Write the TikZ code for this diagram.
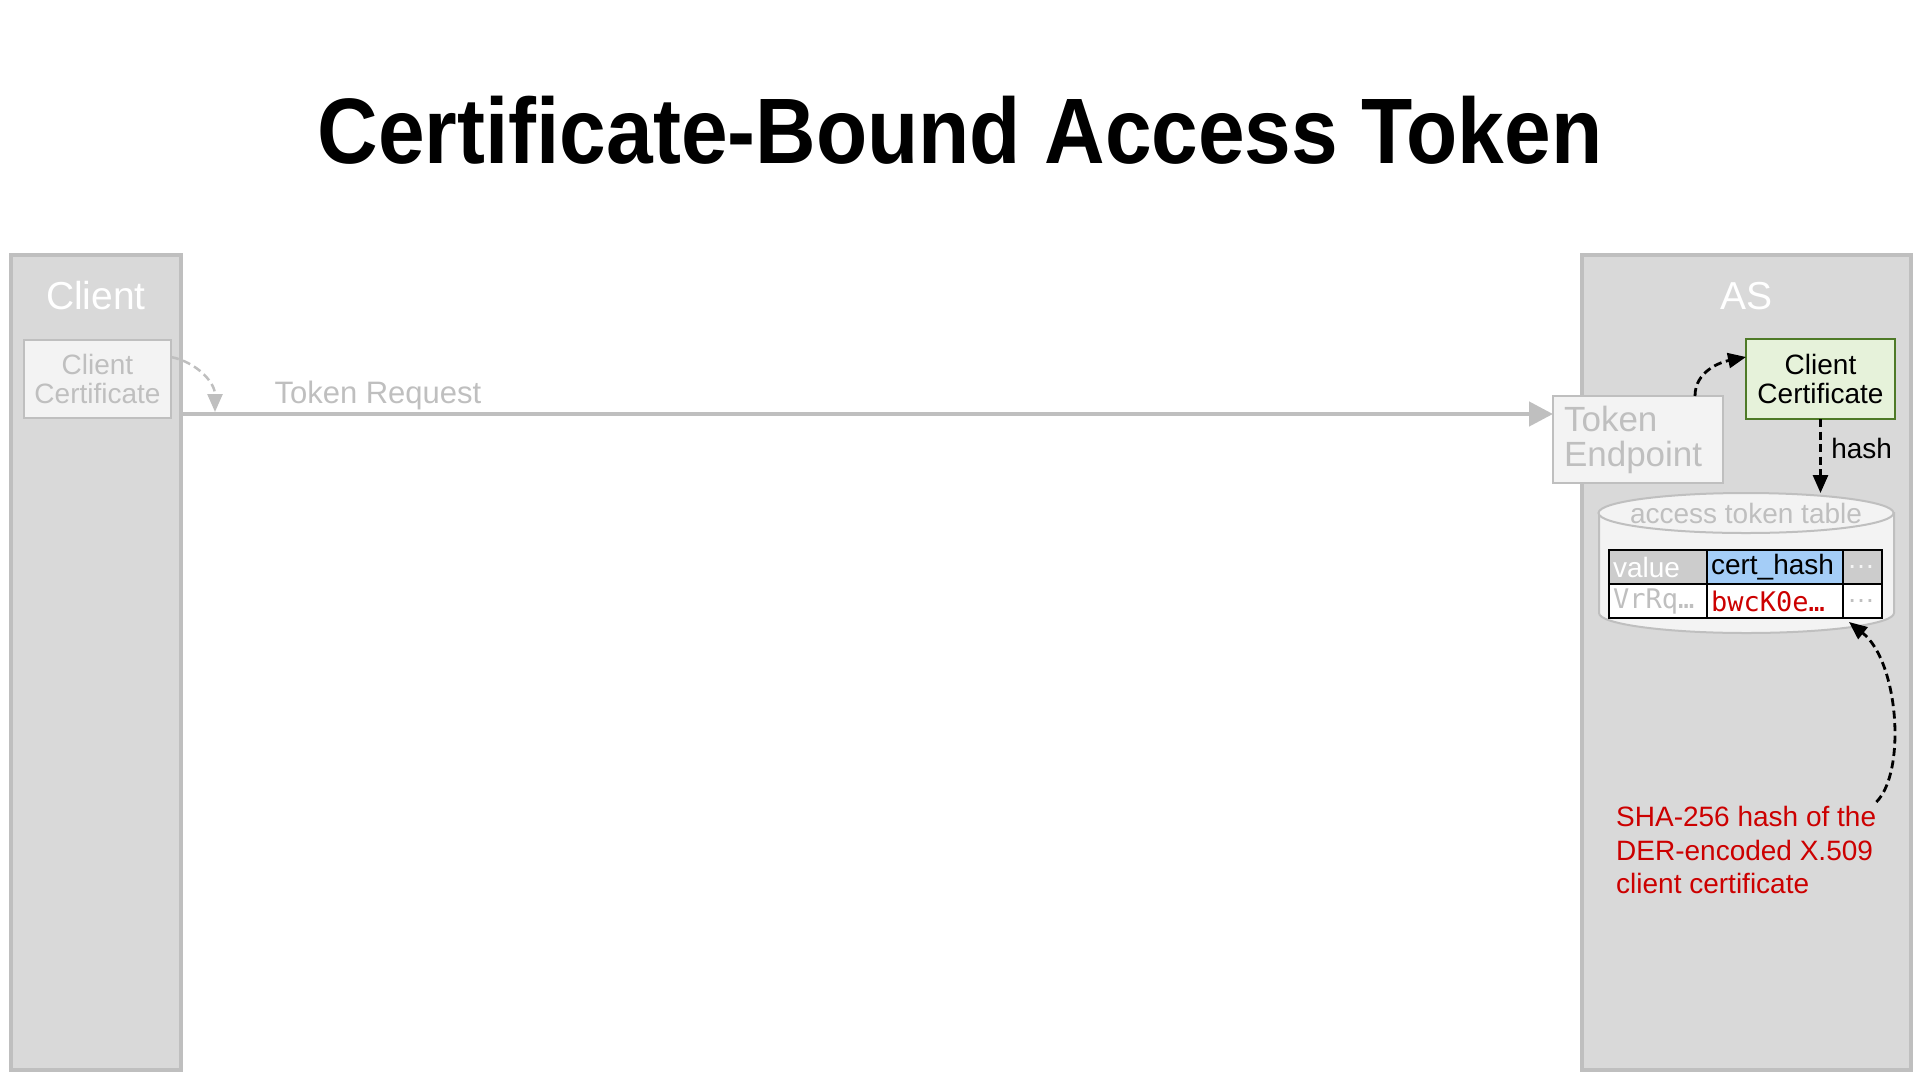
\documentclass[tikz,border=0pt]{standalone}
\usepackage{fontspec}
\setmainfont{Liberation Sans}
\setmonofont{DejaVu Sans Mono}
\usepackage{graphicx}
\usetikzlibrary{arrows.meta,positioning,calc}

\definecolor{lanefill}{HTML}{D9D9D9}
\definecolor{lanegray}{HTML}{BFBFBF}
\definecolor{boxfill}{HTML}{F3F3F3}
\definecolor{certgreen}{HTML}{E6F2DA}
\definecolor{certborder}{HTML}{4E7A27}
\definecolor{hdrblue}{HTML}{A4CDF7}
\definecolor{hdrgray}{HTML}{CCCCCC}
\definecolor{hashred}{HTML}{CC0000}

\begin{document}
\begin{tikzpicture}[x=1pt, y=-1pt,
lane/.style={draw=lanegray, fill=lanefill, line width=3.5pt, inner sep=0pt, outer sep=0pt, anchor=north west},
lanetitle/.style={text=white, font=\fontsize{39}{40}\selectfont},
certbox/.style={draw=lanegray, fill=boxfill, line width=2.5pt, align=center, inner sep=0pt, outer sep=0pt, text=lanegray, font=\fontsize{28}{29}\selectfont},
greenbox/.style={certbox, draw=certborder, fill=certgreen, text=black},
cell/.style={draw=black, line width=2pt, minimum height=34pt, inner xsep=4pt, inner ysep=0pt, outer sep=0pt, anchor=north west, align=left, font=\fontsize{28}{29}\selectfont},
monocell/.style={cell, font=\ttfamily\fontsize{27}{28}\selectfont},
dasharrow/.style={-{Triangle[length=18pt, width=15pt]}, line width=2.8pt, dash pattern=on 8pt off 4.5pt},
reqarrow/.style={-{Triangle[length=24pt, width=24pt]}, draw=lanegray, line width=4.5pt}
]
\useasboundingbox (0,0) rectangle (1920,1080);

% Title
\node[font=\fontsize{93}{100}\selectfont\bfseries, anchor=base] (title) at (960,163) {\scalebox{0.902}[1]{Certificate-Bound Access Token}};

% Lanes
\node[lane, minimum width=170pt, minimum height=815pt] (client) at (11,255) {};
\node[lane, minimum width=329pt, minimum height=815pt] (as) at (1582,255) {};
\node[lanetitle] (clienttitle) at (96,296) {Client};
\node[lanetitle] (astitle) at (1746,296) {AS};

% Client side
\node[certbox, minimum width=147pt, minimum height=78pt] (clientcert) at (97.5,379) {Client\\Certificate};

% AS side
\node[certbox, font=\fontsize{35}{35}\selectfont, align=left, text width=148pt, inner xsep=11pt, minimum height=87pt, anchor=north west] (endpoint) at (1553,396) {Token\\Endpoint};
\node[greenbox, minimum width=149pt, minimum height=80pt] (ascert) at (1820.5,379) {Client\\Certificate};

% Access token table
\filldraw[draw=lanegray, fill=boxfill, line width=2pt] (1599,513) -- (1599,613) arc[start angle=180, end angle=0, x radius=147.5, y radius=20] -- (1894,513) -- cycle;
\filldraw[draw=lanegray, fill=boxfill, line width=2pt] (1746,513) ellipse [x radius=147.5, y radius=20];
\node[text=lanegray, font=\fontsize{28}{29}\selectfont] (dbtitle) at (1746,513) {access token table};
\coordinate (dbtop) at (1746,493);

\node[cell, fill=hdrgray, text=white, text width=90pt] (hvalue) at (1609,550) {value};
\node[cell, fill=hdrblue, text width=128pt] (hhash) at (hvalue.north east) {cert\_hash};
\node[cell, fill=hdrgray, text=white!85!lanegray, text width=31pt] (hmore) at (hhash.north east) {…};
\node[monocell, fill=white, text=lanegray, text width=90pt] (rvalue) at (hvalue.south west) {VrRq…};
\node[monocell, fill=white, text=hashred, text width=128pt] (rhash) at (rvalue.north east) {bwcK0e…};
\node[cell, fill=white, text=lanegray, text width=31pt] (rmore) at (rhash.north east) {…};

\node[font=\fontsize{28}{33.5}\selectfont, text=hashred, align=left, anchor=north west, inner sep=0pt] (shanote) at (1616,806) {SHA-256 hash of the\\DER-encoded X.509\\client certificate};

% Arrows
\coordinate (reqend) at ([yshift=25.5pt]endpoint.west);
\coordinate (certtip) at (215,412);
\draw[reqarrow] (client.east |- reqend) -- (reqend);
\node[text=lanegray, font=\fontsize{31}{32}\selectfont, anchor=base west] (reqlabel) at (271,403) {Token Request};
\draw[dasharrow, draw=lanegray, line width=2.5pt] ([yshift=22pt]clientcert.east) .. controls +(25,5) and +(0,-30) .. (certtip);
\draw[dasharrow] ([xshift=57pt]endpoint.north) .. controls +(0,-25) and +(-25,5) .. ([yshift=22pt]ascert.west);
\draw[dasharrow] (ascert.south) -- (ascert.south |- dbtop) node[pos=0.4, right=6pt, font=\fontsize{28}{29}\selectfont] (hashlabel) {hash};
\draw[dasharrow] ([yshift=4pt]shanote.north east) .. controls +(30,-30) and +(50,40) .. ([shift={(6pt,-4pt)}]rhash.south east);

\end{tikzpicture}
\end{document}
